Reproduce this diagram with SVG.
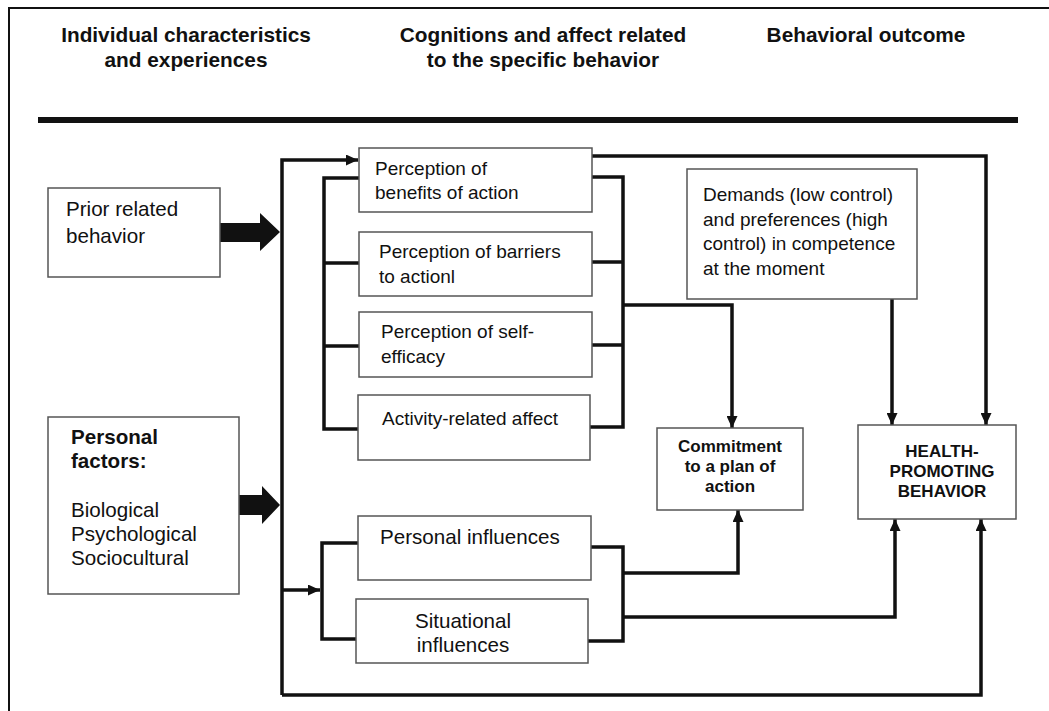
<svg xmlns="http://www.w3.org/2000/svg" width="1049" height="711" viewBox="0 0 1049 711">
  <defs>
    <marker id="arrow" markerUnits="userSpaceOnUse" markerWidth="12" markerHeight="11" refX="12" refY="5.5" orient="auto">
      <path d="M0,0 L12,5.5 L0,11 z" fill="#111"/>
    </marker>
  </defs>
  <style>
    .box { fill: #fff; stroke: #555; stroke-width: 1.5; }
    .wire { fill: none; stroke: #111; stroke-width: 3.5; stroke-linejoin: miter; }
    .arr { marker-end: url(#arrow); }
    .head { font-family: "Liberation Sans", Arial, sans-serif; font-weight: bold; font-size: 20.8px; fill: #111; }
    .t { font-family: "Liberation Sans", Arial, sans-serif; font-size: 19px; fill: #111; }
    .tl { font-family: "Liberation Sans", Arial, sans-serif; font-size: 20.6px; fill: #111; }
    .b17 { font-family: "Liberation Sans", Arial, sans-serif; font-weight: bold; font-size: 17px; fill: #111; text-anchor: middle; }
  </style>
  <rect width="1049" height="711" fill="#fff"/>

  <!-- outer frame and header rule -->
  <path d="M9,711 V8 H1049" fill="none" stroke="#111" stroke-width="2"/>
  <rect x="38" y="117" width="980" height="6" fill="#111"/>

  <!-- column headings -->
  <g id="headings" class="head">
    <text x="186" y="42" text-anchor="middle">Individual characteristics</text>
    <text x="186" y="67" text-anchor="middle">and experiences</text>
    <text x="543" y="42" text-anchor="middle">Cognitions and affect related</text>
    <text x="543" y="67" text-anchor="middle">to the specific behavior</text>
    <text x="866" y="42" text-anchor="middle">Behavioral outcome</text>
  </g>

  <!-- connectors -->
  <g id="connectors">
    <polygon points="220,223 260,223 260,213 280,232 260,251 260,242 220,242" fill="#111"/>
    <polygon points="239,495 262,495 262,486 280,505 262,524 262,515 239,515" fill="#111"/>
    <path class="wire arr" d="M282,695 V160 H358"/>
    <path class="wire arr" d="M282,695 H981 V519"/>
    <path class="wire arr" d="M282,590 H320"/>
    <path class="wire arr" d="M592,156 H986 V425"/>
    <path class="wire" d="M359,178 H324 V429 H359 M324,263 H359 M324,346 H359"/>
    <path class="wire" d="M592,177 H623 V427 H590 M592,262 H623 M592,345 H623"/>
    <path class="wire arr" d="M623,305 H732 V428"/>
    <path class="wire arr" d="M892,299 V425"/>
    <path class="wire" d="M358,543 H322 V639 H356"/>
    <path class="wire" d="M591,547 H623 V641 H588"/>
    <path class="wire arr" d="M623,573 H738 V510"/>
    <path class="wire arr" d="M623,617 H895 V519"/>
  </g>

  <g id="prior-behavior">
    <rect class="box" x="48" y="188" width="172" height="89"/>
    <text class="tl" x="66" y="216">Prior related</text>
    <text class="tl" x="66" y="243">behavior</text>
  </g>

  <g id="personal-factors">
    <rect class="box" x="48" y="417" width="191" height="177"/>
    <text class="tl" x="71" y="444" font-weight="bold">Personal</text>
    <text class="tl" x="71" y="468" font-weight="bold">factors:</text>
    <text class="tl" x="71" y="517">Biological</text>
    <text class="tl" x="71" y="541">Psychological</text>
    <text class="tl" x="71" y="565">Sociocultural</text>
  </g>

  <g id="benefits">
    <rect class="box" x="359" y="148" width="233" height="64"/>
    <text class="t" x="375" y="175">Perception of</text>
    <text class="t" x="375" y="199">benefits of action</text>
  </g>

  <g id="barriers">
    <rect class="box" x="359" y="232" width="233" height="64"/>
    <text class="t" x="379" y="258">Perception of barriers</text>
    <text class="t" x="379" y="283">to actionl</text>
  </g>

  <g id="self-efficacy">
    <rect class="box" x="359" y="312" width="233" height="65"/>
    <text class="t" x="381" y="338">Perception of self-</text>
    <text class="t" x="381" y="363">efficacy</text>
  </g>

  <g id="activity-affect">
    <rect class="box" x="358" y="395" width="232" height="65"/>
    <text class="t" x="382" y="425">Activity-related affect</text>
  </g>

  <g id="personal-influences">
    <rect class="box" x="358" y="516" width="233" height="64"/>
    <text class="tl" x="380" y="544">Personal influences</text>
  </g>

  <g id="situational-influences">
    <rect class="box" x="356" y="599" width="232" height="64"/>
    <text class="tl" x="463" y="628" text-anchor="middle">Situational</text>
    <text class="tl" x="463" y="652" text-anchor="middle">influences</text>
  </g>

  <g id="demands">
    <rect class="box" x="687" y="169" width="230" height="130"/>
    <text class="t" x="703" y="201">Demands (low control)</text>
    <text class="t" x="703" y="226">and preferences (high</text>
    <text class="t" x="703" y="250">control) in competence</text>
    <text class="t" x="703" y="275">at the moment</text>
  </g>

  <g id="commitment">
    <rect class="box" x="657" y="428" width="146" height="82"/>
    <text class="b17" x="730" y="452">Commitment</text>
    <text class="b17" x="730" y="472">to a plan of</text>
    <text class="b17" x="730" y="492">action</text>
  </g>

  <g id="health-behavior">
    <rect class="box" x="858" y="425" width="158" height="94"/>
    <text class="b17" x="942" y="457">HEALTH-</text>
    <text class="b17" x="942" y="477">PROMOTING</text>
    <text class="b17" x="942" y="497">BEHAVIOR</text>
  </g>
</svg>
